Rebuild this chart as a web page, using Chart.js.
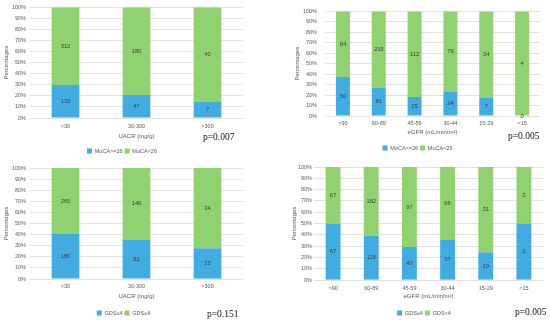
<!DOCTYPE html>
<html><head><meta charset="utf-8">
<script src="https://cdn.jsdelivr.net/npm/chart.js@4/dist/chart.umd.min.js"></script>
<style>
html,body{margin:0;padding:0;width:550px;height:325px;overflow:hidden;background:#fff}
.p{position:absolute}
.p canvas{display:block}
.pv{position:absolute;font-family:"Liberation Serif","Times New Roman",serif;font-size:9.5px;line-height:10px;color:#111;white-space:nowrap}
</style></head><body>
<div class="p" style="left:0;top:0"><canvas id="c1" width="275" height="160"></canvas></div>
<div class="p" style="left:275px;top:0"><canvas id="c2" width="275" height="160"></canvas></div>
<div class="p" style="left:0;top:160px"><canvas id="c3" width="275" height="165"></canvas></div>
<div class="p" style="left:275px;top:160px"><canvas id="c4" width="275" height="165"></canvas></div>
<div class="pv" id="pv1" style="left:203px;top:132px"></div>
<div class="pv" id="pv2" style="left:508px;top:131px"></div>
<div class="pv" id="pv3" style="left:207px;top:309px"></div>
<div class="pv" id="pv4" style="left:515px;top:307px"></div>
<script>
// ---- data ----
const uacrCats = ['<30', '30-300', '>300'];
const egfrCats = ['>90', '60-89', '45-59', '30-44', '15-29', '<15'];
const mocaUacrHigh = [133, 47, 7];      // MoCA>=26
const mocaUacrLow  = [312, 180, 40];    // MoCA<26
const mocaEgfrHigh = [50, 81, 25, 24, 7, 0];
const mocaEgfrLow  = [84, 219, 112, 79, 34, 4];
const gdsUacrLow   = [180, 81, 13];     // GDS≤4
const gdsUacrHigh  = [265, 146, 34];
const gdsEgfrLow   = [67, 118, 40, 37, 10, 2];
const gdsEgfrHigh  = [67, 182, 97, 66, 31, 2];
const mocaLabels = ['MoCA>=26', 'MoCA<26'];
const gdsLabelsUacr = ['GDS≤4', 'GDS≤4'];
const gdsLabelsEgfr = ['GDS≤4', 'GDS>4'];
const pValues = ['p=0.007', 'p=0.005', 'p=0.151', 'p=0.005'];
const yTitle = 'Percentages';
const uacrTitle = 'UACR (mg/g)';
const egfrTitle = 'eGFR (mL/min/m²)';

const BLUE = '#40ACE1', GREEN = '#90D26F';
const FONT = '"Liberation Sans", Arial, sans-serif';
const TXT = '#595959';

const placeLegend = {
  id: 'placeLegend',
  afterLayout(chart, args, opts) {
    const lg = chart.legend; if (!lg) return;
    const w = lg.right - lg.left, h = lg.bottom - lg.top;
    const lab = chart.options.plugins.legend.labels;
    lg.left = opts.x - w / 2; lg.right = lg.left + w;
    lg.top = opts.y - lab.padding - lab.font.size / 2; lg.bottom = lg.top + h;
  }
};
const barLabels = {
  id: 'barLabels',
  afterDatasetsDraw(chart) {
    const ctx = chart.ctx;
    ctx.save();
    ctx.font = '5.8px ' + FONT; ctx.fillStyle = '#404040';
    ctx.textAlign = 'center'; ctx.textBaseline = 'middle';
    chart.data.datasets.forEach((ds, i) => {
      chart.getDatasetMeta(i).data.forEach((el, j) => {
        ctx.fillText(String(ds.counts[j]), el.x, (el.y + el.base) / 2);
      });
    });
    ctx.restore();
  }
};

function makeChart(id, cats, bottomArr, topArr, labels, xTitle, c) {
  const totals = cats.map((_, i) => bottomArr[i] + topArr[i]);
  const pct = arr => arr.map((v, i) => v / totals[i] * 100);
  const lh = 6 * 1.2;
  const hx = c.titleY - c.bottom + lh / 2;
  const legendH = 5.5 + 2 + 10;
  const pb = c.ch - c.bottom - hx - legendH;
  new Chart(document.getElementById(id), {
    type: 'bar',
    data: {
      labels: cats,
      datasets: [
        { label: labels[0], data: pct(bottomArr), counts: bottomArr, backgroundColor: BLUE, borderWidth: 0, barPercentage: 0.39, categoryPercentage: 1 },
        { label: labels[1], data: pct(topArr), counts: topArr, backgroundColor: GREEN, borderWidth: 0, barPercentage: 0.39, categoryPercentage: 1 }
      ]
    },
    options: {
      responsive: false, animation: false, devicePixelRatio: 1,
      layout: { padding: { left: 0, right: c.pr, top: c.pt, bottom: pb } },
      plugins: {
        tooltip: { enabled: false },
        legend: {
          position: 'bottom',
          labels: { boxWidth: 5, boxHeight: 5, padding: 2, color: TXT, font: { family: FONT, size: 5.5 } }
        },
        placeLegend: { x: c.legX, y: c.legY }
      },
      scales: {
        x: {
          stacked: true,
          grid: { display: false, drawTicks: false },
          border: { display: false },
          ticks: { color: TXT, font: { family: FONT, size: 5.5 }, padding: c.xpad, maxRotation: 0, autoSkip: false },
          title: { display: true, text: xTitle, color: TXT, font: { family: FONT, size: 6 }, padding: { top: 0, bottom: 0 } },
          afterFit: s => { s.height = hx; }
        },
        y: {
          stacked: true, min: 0, max: 100,
          grid: { color: '#d9d9d9', lineWidth: 0.8, drawTicks: false },
          border: { display: false },
          ticks: { stepSize: 10, color: TXT, font: { family: FONT, size: 5.5 }, padding: c.ypad, callback: v => v + '%', autoSkip: false },
          title: { display: true, text: yTitle, color: TXT, font: { family: FONT, size: 6 }, padding: { top: c.ytp, bottom: 0 } },
          afterFit: s => { s.width = c.yw; }
        }
      }
    },
    plugins: [placeLegend, barLabels]
  });
}

makeChart('c1', uacrCats, mocaUacrHigh, mocaUacrLow, mocaLabels, uacrTitle,
  { yw: 30, ytp: 2.4, ypad: 4, pt: 7, bottom: 118, pr: 32, titleY: 136, xpad: 5, legX: 122, legY: 151, ch: 160 });
makeChart('c2', egfrCats, mocaEgfrHigh, mocaEgfrLow, mocaLabels, egfrTitle,
  { yw: 50, ytp: 18.9, ypad: 8, pt: 10, bottom: 116, pr: 10, titleY: 132, xpad: 4.25, legX: 142.5, legY: 148, ch: 160 });
makeChart('c3', uacrCats, gdsUacrLow, gdsUacrHigh, gdsLabelsUacr, uacrTitle,
  { yw: 30, ytp: 2.9, ypad: 4, pt: 8, bottom: 119, pr: 32, titleY: 136, xpad: 4.25, legX: 123.5, legY: 153, ch: 165 });
makeChart('c4', egfrCats, gdsEgfrLow, gdsEgfrHigh, gdsLabelsEgfr, egfrTitle,
  { yw: 39, ytp: 15.9, ypad: 2, pt: 7, bottom: 120, pr: 7, titleY: 136, xpad: 5.25, legX: 149, legY: 153, ch: 165 });

pValues.forEach((t, i) => { document.getElementById('pv' + (i + 1)).textContent = t; });
</script>
</body></html>
